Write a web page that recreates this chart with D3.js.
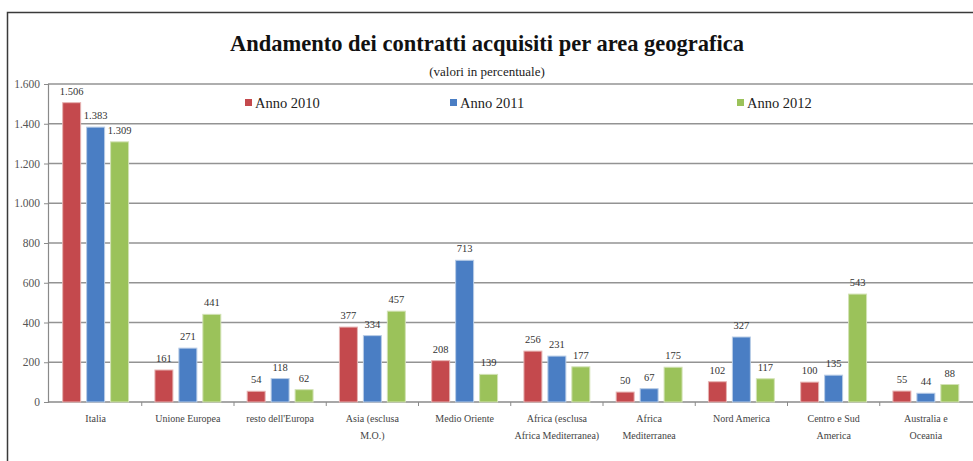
<!DOCTYPE html>
<html>
<head>
<meta charset="utf-8">
<script src="https://cdn.jsdelivr.net/npm/d3@7/dist/d3.min.js"></script>
<style>
  html, body { margin: 0; padding: 0; background: #fff; }
  svg, svg text { font-family: 'Liberation Serif', 'DejaVu Serif', serif; }
</style>
</head>
<body>
<svg id="chart" width="973" height="461"></svg>
<script>
// Aree geografiche (a capo indicato con "\n")
const categories = [
  "Italia",
  "Unione Europea",
  "resto dell'Europa",
  "Asia (esclusa\nM.O.)",
  "Medio Oriente",
  "Africa (esclusa\nAfrica Mediterranea)",
  "Africa\nMediterranea",
  "Nord America",
  "Centro e Sud\nAmerica",
  "Australia e\nOceania"
];
const seriesNames = ["Anno 2010", "Anno 2011", "Anno 2012"];
const values2010 = [1506, 161, 54, 377, 208, 256, 50, 102, 100, 55];
const values2011 = [1383, 271, 118, 334, 713, 231, 67, 327, 135, 44];
const values2012 = [1309, 441, 62, 457, 139, 177, 175, 117, 543, 88];
const yTicks = [0, 200, 400, 600, 800, 1000, 1200, 1400, 1600];
const colors = ["#c4494d", "#4a7ec4", "#9bc25a"];
const strokes = ["#e6b3b2", "#b8cce6", "#d2e2b4"];

const seriesValues = [values2010, values2011, values2012];
const SERIF = "'Liberation Serif', 'DejaVu Serif', serif";

const svg = d3.select("#chart");
const root = svg.append("g").attr("font-family", SERIF);
const it = d3.formatLocale({ decimal: ",", thousands: ".", grouping: [3], currency: ["€", ""] });
const fmt = it.format(",d");

// Cornice
root.append("path")
  .attr("d", "M7.5,461 L7.5,12.5 L973,12.5")
  .attr("fill", "none").attr("stroke", "#3a3a3a").attr("stroke-width", 1.5);

// Titoli
root.append("text").attr("x", 487).attr("y", 51).attr("text-anchor", "middle")
  .attr("font-family", SERIF)
  .attr("font-size", 22.5).attr("font-weight", "bold").attr("fill", "#111")
  .text("Andamento dei contratti acquisiti per area geografica");
root.append("text").attr("x", 487).attr("y", 76).attr("text-anchor", "middle")
  .attr("font-family", SERIF)
  .attr("font-size", 13).attr("fill", "#222")
  .text("(valori in percentuale)");

// Scale
const axisX = 48;
const y = d3.scaleLinear().domain([0, 1600]).range([402, 84]);
const x = d3.scaleBand().domain(categories).range([49.5, 972]).paddingInner(0).paddingOuter(0);
const xs = d3.scaleBand().domain(seriesNames).range([0, x.bandwidth()]).paddingInner(0.25).paddingOuter(0.55);

// Griglia orizzontale
root.append("g").selectAll("line").data(yTicks.filter(d => d > 0)).join("line")
  .attr("x1", axisX).attr("x2", 973)
  .attr("y1", d => y(d)).attr("y2", d => y(d))
  .attr("stroke", "#939393").attr("stroke-width", 1.6);

// Asse Y
const yAxis = d3.axisLeft(y).tickValues(yTicks).tickFormat(fmt).tickSize(4).tickPadding(4);
const gy = root.append("g").attr("transform", `translate(${axisX},0)`).call(yAxis);
gy.attr("font-family", SERIF);
gy.select(".domain").attr("stroke", "#8a8a8a").attr("stroke-width", 1.2);
gy.selectAll(".tick line").attr("stroke", "#8a8a8a");
gy.selectAll(".tick text").attr("font-family", SERIF)
  .attr("font-size", 11.5).attr("fill", "#555");

// Asse X (linea di base e tacche tra le categorie)
root.append("line").attr("x1", axisX).attr("x2", 973).attr("y1", y(0)).attr("y2", y(0))
  .attr("stroke", "#8a8a8a").attr("stroke-width", 1.6);
root.append("g").selectAll("line").data(categories.slice(1)).join("line")
  .attr("x1", d => x(d)).attr("x2", d => x(d))
  .attr("y1", y(0)).attr("y2", y(0) + 4)
  .attr("stroke", "#8a8a8a");

// Barre
const groups = root.append("g").selectAll("g").data(categories).join("g")
  .attr("transform", d => `translate(${x(d)},0)`);

seriesNames.forEach((s, si) => {
  groups.append("rect")
    .attr("x", xs(s))
    .attr("width", xs.bandwidth())
    .attr("y", (d, i) => y(seriesValues[si][i]))
    .attr("height", (d, i) => y(0) - y(seriesValues[si][i]))
    .attr("fill", colors[si])
    .attr("stroke", strokes[si]).attr("stroke-width", 1);
  groups.append("text")
    .attr("x", xs(s) + xs.bandwidth() / 2)
    .attr("y", (d, i) => y(seriesValues[si][i]) - 8)
    .attr("text-anchor", "middle")
    .attr("font-family", SERIF)
    .attr("font-size", 10.5).attr("fill", "#333")
    .text((d, i) => fmt(seriesValues[si][i]));
});

// Etichette categorie
groups.append("text")
  .attr("x", x.bandwidth() / 2)
  .attr("y", 422)
  .attr("text-anchor", "middle")
  .attr("font-family", SERIF)
  .attr("font-size", 10).attr("fill", "#444")
  .selectAll("tspan").data(d => d.split("\n")).join("tspan")
  .attr("x", x.bandwidth() / 2)
  .attr("dy", (d, i) => i === 0 ? 0 : 17)
  .text(d => d);

// Legenda
const legendX = [245, 450, 737];
const legend = root.append("g").selectAll("g").data(seriesNames).join("g")
  .attr("transform", (d, i) => `translate(${legendX[i]},103)`);
legend.append("rect").attr("x", 0).attr("y", -4).attr("width", 7).attr("height", 7)
  .attr("fill", (d, i) => colors[i]);
legend.append("text").attr("x", 10).attr("y", 4.5).attr("font-family", SERIF)
  .attr("font-size", 14.5).attr("fill", "#222")
  .text(d => d);
</script>
</body>
</html>
